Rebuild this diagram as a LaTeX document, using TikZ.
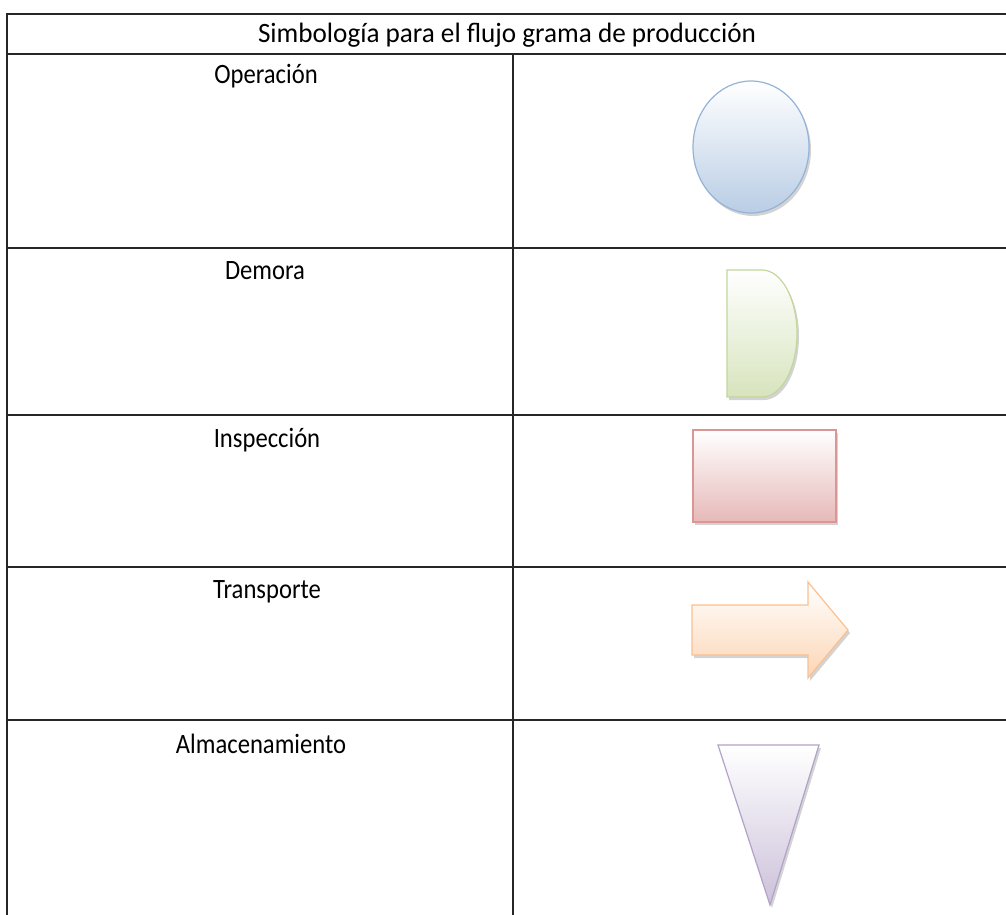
\documentclass[tikz,border=0pt]{standalone}
\usepackage{fontspec}
\setmainfont{Carlito}[FakeStretch=0.88]
\newfontfamily\titlefont{Carlito}[FakeStretch=0.97]
\usetikzlibrary{shadows}

\definecolor{opline}{HTML}{95B3D7}
\definecolor{opfill}{HTML}{B9CDE5}
\definecolor{deline}{HTML}{C3D69B}
\definecolor{defill}{HTML}{D7E4BD}
\definecolor{inline}{HTML}{D99694}
\definecolor{infill}{HTML}{E6B9B8}
\definecolor{trline}{HTML}{FAC090}
\definecolor{trfill}{HTML}{FCD5B5}
\definecolor{alline}{HTML}{B3A2C7}
\definecolor{alfill}{HTML}{CCC1DA}

\begin{document}
\begin{tikzpicture}[x=1pt, y=-1pt,
  grid/.style = {line width=1.6pt, draw=black!85},
  lbl/.style = {anchor=base, inner sep=0pt,
    font=\fontsize{28}{32}\selectfont},
  sym/.style = {line width=1.2pt, draw=#1line, top color=white,
    bottom color=#1fill,
    drop shadow={shadow xshift=2pt, shadow yshift=-3pt, opacity=.35}}
  ]
  \useasboundingbox (0,0) rectangle (1006,914);

  % table
  \draw [grid] (1012,14) -- (7,14) -- (7,920);
  \draw [grid] (7,54) -- (1012,54);
  \foreach \y in {248,415,567,720}
    \draw [grid] (7,\y) -- (1012,\y);
  \draw [grid] (513,54) -- (513,920);

  \node [lbl, font=\titlefont\fontsize{28}{32}\selectfont] (title) at (507,42)
    {Simbología para el flujo grama de producción};
  \node [lbl] (oper) at (266,83) {Operación};
  \node [lbl] (demo) at (265,279) {Demora};
  \node [lbl] (insp) at (267,447) {Inspección};
  \node [lbl] (tran) at (267,598) {Transporte};
  \node [lbl] (alma) at (261,753) {Almacenamiento};

  % symbols
  \path [sym=op] (751,147) ellipse [x radius=58pt, y radius=66pt];
  \path [sym=de] (727,270) -- (762,270)
    .. controls (781.3,270) and (797,298.4) .. (797,333.5)
    .. controls (797,368.6) and (781.3,397) .. (762,397)
    -- (727,397) -- cycle;
  \path [sym=in] (693,430) rectangle (836,522);
  \path [sym=tr] (692,605) -- (808,605) -- (808,582) -- (848,630)
    -- (808,678) -- (808,655) -- (692,655) -- cycle;
  \path [sym=al] (718,745) -- (819,745) -- (770,905) -- cycle;
\end{tikzpicture}
\end{document}
